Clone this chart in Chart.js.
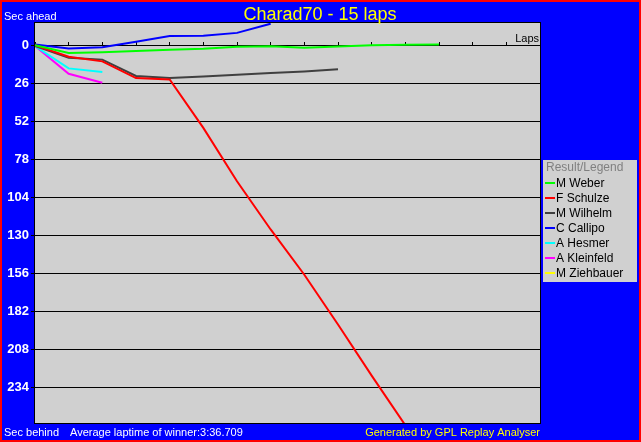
<!DOCTYPE html>
<html>
<head>
<meta charset="utf-8">
<title>Charad70 - 15 laps</title>
<script src="https://cdn.jsdelivr.net/npm/chart.js@4.4.0/dist/chart.umd.min.js"></script>
<style>
  html, body { margin: 0; padding: 0; background: #0000ff; }
  canvas { display: block; }
</style>
</head>
<body>
<canvas id="lapChart" width="641" height="442"></canvas>
<script>
// seconds relative to the winner's average pace, per lap (positive = behind)
const drivers = ['M Weber', 'F Schulze', 'M Wilhelm', 'C Callipo', 'A Hesmer', 'A Kleinfeld', 'M Ziehbauer'];
const weber = [0, 5.3, 4.8, 3.9, 3.0, 2.4, 1.0, 0.7, 1.7, 0.9, 0.0, -0.4, -0.5];
const schulze = [0, 7.8, 11, 22.4, 23.4, 56.5, 93, 126, 157, 191, 226, 260];
const wilhelm = [0.5, 8.6, 9.8, 21, 22.4, 21.3, 20.2, 19, 17.9, 16.4];
const callipo = [-0.5, 2.2, 1.4, -2.4, -6.4, -6.5, -8.5, -14.8];
const hesmer = [0.5, 15.8, 18.3];
const kleinfeld = [0.5, 19.5, 25.6];
const ziehbauer = [];
const yTicks = [0, 26, 52, 78, 104, 130, 156, 182, 208, 234];
const totalLaps = 15;

const lineColors = ['#00ff00', '#ff0000', '#404040', '#0000ff', '#00ffff', '#ff00ff', '#ffff00'];
const series = [weber, schulze, wilhelm, callipo, hesmer, kleinfeld, ziehbauer];

const FONT = "'Liberation Sans', Arial, sans-serif";

// background, frame, texts and the legend box
const frame = {
    id: 'frame',
    beforeDraw(chart) {
        const { ctx, chartArea: a } = chart;
        ctx.save();
        ctx.fillStyle = '#ff0000';
        ctx.fillRect(0, 0, 641, 442);
        ctx.fillStyle = '#0000ff';
        ctx.fillRect(2, 2, 637, 438);
        ctx.fillStyle = '#d0d0d0';
        ctx.fillRect(a.left, a.top, a.right - a.left, a.bottom - a.top);
        ctx.restore();
    },
    afterDraw(chart) {
        const { ctx, chartArea: a } = chart;
        ctx.save();
        ctx.strokeStyle = '#000000';
        ctx.lineWidth = 1;
        ctx.strokeRect(a.left - 0.5, a.top - 0.5, a.right - a.left + 1, a.bottom - a.top + 1);

        ctx.textBaseline = 'alphabetic';
        ctx.fillStyle = '#ffff00';
        ctx.font = '18px ' + FONT;
        ctx.textAlign = 'center';
        ctx.fillText('Charad70 - 15 laps', 320, 20);

        ctx.font = '11px ' + FONT;
        ctx.textAlign = 'left';
        ctx.fillStyle = '#ffffff';
        ctx.fillText('Sec ahead', 4, 20);
        ctx.fillText('Sec behind', 4, 436);
        ctx.fillText('Average laptime of winner:3:36.709', 70, 436);
        ctx.textAlign = 'right';
        ctx.fillStyle = '#ffff00';
        ctx.fillText('Generated by GPL Replay Analyser', 540, 436);
        ctx.fillStyle = '#000000';
        ctx.fillText('Laps', 539, 42);

        // legend
        ctx.fillStyle = '#d0d0d0';
        ctx.fillRect(543, 160, 94, 122);
        ctx.font = '12px ' + FONT;
        ctx.textAlign = 'left';
        ctx.textBaseline = 'middle';
        ctx.fillStyle = '#808080';
        ctx.fillText('Result/Legend', 546, 168);
        chart.data.datasets.forEach((ds, i) => {
            const y = 183 + i * 15;
            ctx.strokeStyle = ds.borderColor;
            ctx.lineWidth = 2;
            ctx.beginPath();
            ctx.moveTo(545, y);
            ctx.lineTo(555, y);
            ctx.stroke();
            ctx.fillStyle = '#000000';
            ctx.fillText(ds.label, 556, y + 1);
        });
        ctx.restore();
    }
};

new Chart(document.getElementById('lapChart'), {
    type: 'line',
    data: {
        datasets: drivers.map((name, i) => ({
            label: name,
            data: series[i].map((v, lap) => ({ x: lap, y: v })),
            borderColor: lineColors[i],
            backgroundColor: lineColors[i],
            borderWidth: 2,
            pointRadius: 0,
            tension: 0,
            fill: false,
        })),
    },
    options: {
        responsive: false,
        animation: false,
        events: [],
        layout: { padding: { left: 0, top: 23, right: 101, bottom: 19 } },
        plugins: {
            legend: { display: false },
            title: { display: false },
            tooltip: { enabled: false },
        },
        scales: {
            x: {
                type: 'linear',
                min: 0,
                max: totalLaps,
                position: { y: 0 },
                ticks: { display: false, stepSize: 1 },
                grid: { drawOnChartArea: false, drawTicks: true, tickLength: -4, color: '#000000' },
                border: { display: true, color: '#000000', width: 1 },
                afterFit: (scale) => { scale.height = 0; },
            },
            y: {
                type: 'linear',
                reverse: true,
                min: -15.26,
                max: 258.43,
                afterBuildTicks: (scale) => { scale.ticks = yTicks.map(v => ({ value: v })); },
                afterFit: (scale) => { scale.width = 35; },
                ticks: {
                    color: '#ffffff',
                    padding: 2,
                    font: { family: FONT, size: 13, weight: 'bold' },
                },
                grid: { color: '#000000', lineWidth: 1, tickLength: 4 },
                border: { display: false },
            },
        },
    },
    plugins: [frame],
});
</script>
</body>
</html>
